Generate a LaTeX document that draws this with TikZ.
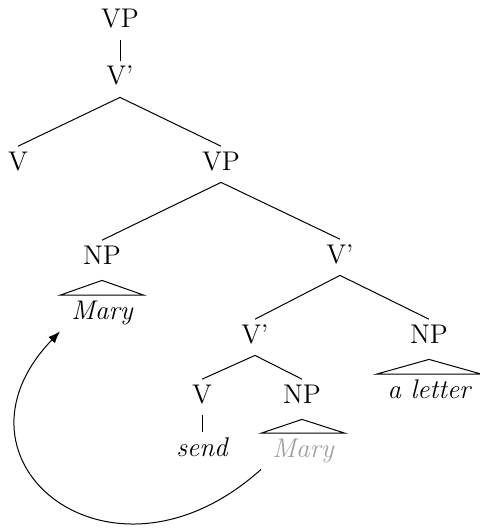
\documentclass[tikz,border=0pt]{standalone}
\usetikzlibrary{arrows.meta}
\definecolor{traceGray}{RGB}{160,160,160}
\begin{document}
\begin{tikzpicture}[x=0.5pt,y=-0.5pt,
  lbl/.style={anchor=base, text height=9.2pt, text depth=3.5pt, inner xsep=0pt, inner ysep=2.5pt, font=\fontsize{13.5}{16}\selectfont},
  leaf/.style={lbl, font=\fontsize{13.5}{16}\selectfont\itshape, inner xsep=5.5pt},
  branch/.style={line width=0.5pt},
  roof/.style={line width=0.5pt, line join=miter}]
\useasboundingbox (0,0) rectangle (480,529);
% labels
\node[lbl] (vp1) at (120,28) {VP};
\node[lbl] (vbar1) at (120,85) {V'};
\node[lbl] (v1) at (18,170) {V};
\node[lbl] (vp2) at (221,170) {VP};
\node[lbl] (np1) at (102,264) {NP};
\node[lbl] (vbar2) at (340,263) {V'};
\node[lbl] (vbar3) at (255,343) {V'};
\node[lbl] (np2) at (429,343) {NP};
\node[lbl] (v2) at (202,403) {V};
\node[lbl] (np3) at (302,403) {NP};
\node[leaf] (mary1) at (102,319) {Mary};
\node[leaf] (aletter) at (429,398) {a letter};
\node[leaf] (send) at (202,456) {send};
\node[leaf, text=traceGray] (mary2) at (303,457) {Mary};
% branches
\draw[branch] (vp1.south) -- (vbar1.north);
\draw[branch] (vbar1.south) -- (v1.north);
\draw[branch] (vbar1.south) -- (vp2.north);
\draw[branch] (vp2.south) -- (np1.north);
\draw[branch] (vp2.south) -- (vbar2.north);
\draw[branch] (vbar2.south) -- (vbar3.north);
\draw[branch] (vbar2.south) -- (np2.north);
\draw[branch] (vbar3.south) -- (v2.north);
\draw[branch] (vbar3.south) -- (np3.north);
\draw[branch] (v2.south) -- (send.north);
% roofs
\draw[roof] ([yshift=-2pt]np1.south) -- (mary1.north east) -- (mary1.north west) -- cycle;
\draw[roof] ([yshift=-2pt]np2.south) -- (aletter.north east) -- (aletter.north west) -- cycle;
\draw[roof] ([yshift=-2pt]np3.south) -- (mary2.north east) -- (mary2.north west) -- cycle;
% movement arrow
\draw[line width=0.5pt, -{Latex[length=6pt,width=4.5pt]}] (mary2.south west) .. controls +(-150,135) and +(-125,130) .. (mary1.south west);
\end{tikzpicture}
\end{document}
